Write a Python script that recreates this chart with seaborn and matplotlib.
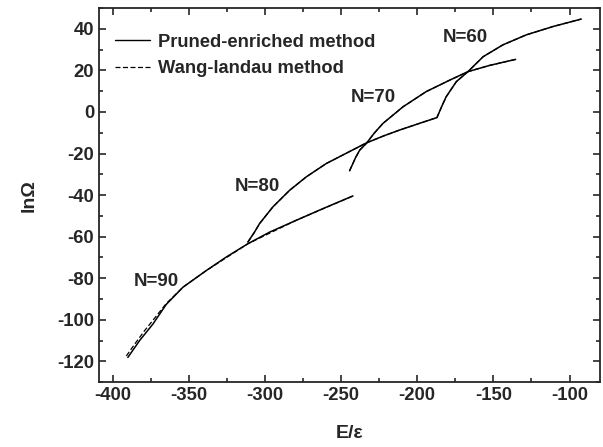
import numpy as np
import pandas as pd
import matplotlib
matplotlib.use("Agg")
import matplotlib.pyplot as plt
import seaborn as sns
from matplotlib.ticker import AutoMinorLocator

sns.set_style("ticks")
plt.rcParams['font.family'] = ['Liberation Sans', 'DejaVu Sans']
plt.rcParams['font.weight'] = 'bold'
plt.rcParams['axes.unicode_minus'] = False

# values (E/eps, ln Omega) for each chain length
e_n90 = [-390, -382.3, -373.5, -364.8, -353.8, -338.5, -325.4, -311.2, -296.9, -279.4, -261.9, -242.2]
w_n90 = [-118.1, -110.0, -102.0, -92.6, -84.3, -76.3, -69.8, -63.4, -57.8, -52.1, -46.5, -40.4]
e_n80 = [-311.2, -307, -303.5, -294.8, -283.8, -272.8, -259.7, -247.5, -233.4, -222, -211.6, -199, -187.5]
w_n80 = [-62.6, -58.0, -53.7, -45.7, -37.7, -31.2, -24.8, -20.2, -14.9, -11.5, -8.7, -5.6, -2.8]
e_n70 = [-244.4, -240.5, -237.8, -233.4, -228, -222.5, -209.3, -194.1, -178.7, -166.7, -152.5, -135.4]
w_n70 = [-28.3, -22.0, -18.4, -15.1, -10.0, -5.5, 2.5, 9.8, 15.3, 19.4, 22.4, 25.3]
e_n60 = [-187.1, -184, -181, -174.3, -166.7, -156.7, -143.7, -128.4, -110.9, -92.3]
w_n60 = [-2.8, 2.5, 7.3, 14.6, 19.4, 26.6, 32.3, 37.1, 41.1, 44.7]
# Wang-Landau result differs only at the low-energy end of N=90
e_wl90 = [-391, -385, -379, -373.5, -364.8, -353.8, -338.5, -311.2, -279.4, -242.2]
w_wl90 = [-117.4, -111.2, -105.2, -100.2, -92.2, -84.3, -76.3, -63.4, -52.1, -40.4]

labels = ['N=90', 'N=80', 'N=70', 'N=60']
label_x = [-371, -305, -229, -168.5]
label_y = [-81.5, -35.7, 7.2, 35.7]

pe = pd.concat([pd.DataFrame({'E': e, 'lnW': w, 'N': n}) for e, w, n in
                [(e_n90, w_n90, 90), (e_n80, w_n80, 80), (e_n70, w_n70, 70), (e_n60, w_n60, 60)]])
wl = pd.concat([pd.DataFrame({'E': e, 'lnW': w, 'N': n}) for e, w, n in
                [(e_wl90, w_wl90, 90), (e_n80, w_n80, 80), (e_n70, w_n70, 70), (e_n60, w_n60, 60)]])

fig, ax = plt.subplots(figsize=(6.03, 4.47), dpi=100)
sns.lineplot(data=wl, x='E', y='lnW', units='N', estimator=None, color='k',
             lw=0.9, linestyle=(0, (4, 2)), sort=False, ax=ax)
sns.lineplot(data=pe, x='E', y='lnW', units='N', estimator=None, color='k',
             lw=1.1, sort=False, ax=ax)

for t, x, y in zip(labels, label_x, label_y):
    ax.text(x, y, t, ha='center', va='center', fontsize=13.5, fontweight='bold')

ax.plot([], [], color='k', lw=1.0, label='Pruned-enriched method')
ax.plot([], [], color='k', lw=0.9, linestyle=(0, (4, 2)), label='Wang-landau method')
ax.legend(loc='upper left', bbox_to_anchor=(0.0, 0.975), frameon=False, fontsize=13.2,
          handlelength=1.9, handletextpad=0.4, borderaxespad=0.5, labelspacing=0.5)

ax.set_xlim(-409, -80)
ax.set_ylim(-130, 50)
ax.set_xticks(np.arange(-400, -99, 50))
ax.set_yticks(np.arange(-120, 41, 20))
ax.xaxis.set_minor_locator(AutoMinorLocator(2))
ax.yaxis.set_minor_locator(AutoMinorLocator(2))
ax.tick_params(which='both', direction='in', top=True, right=True, width=1.2, labelsize=13.3)
ax.tick_params(which='major', length=5)
ax.tick_params(which='minor', length=3)
for s in ax.spines.values():
    s.set_linewidth(1.3)
for lab in ax.get_xticklabels() + ax.get_yticklabels():
    lab.set_fontweight('bold')

ax.set_xlabel('E/ε', fontsize=14, fontweight='bold', labelpad=15)
ax.set_ylabel('lnΩ', fontsize=14, fontweight='bold', labelpad=14)

fig.subplots_adjust(left=0.164, right=0.995, top=0.982, bottom=0.145)
fig.savefig('out.png', dpi=100)
